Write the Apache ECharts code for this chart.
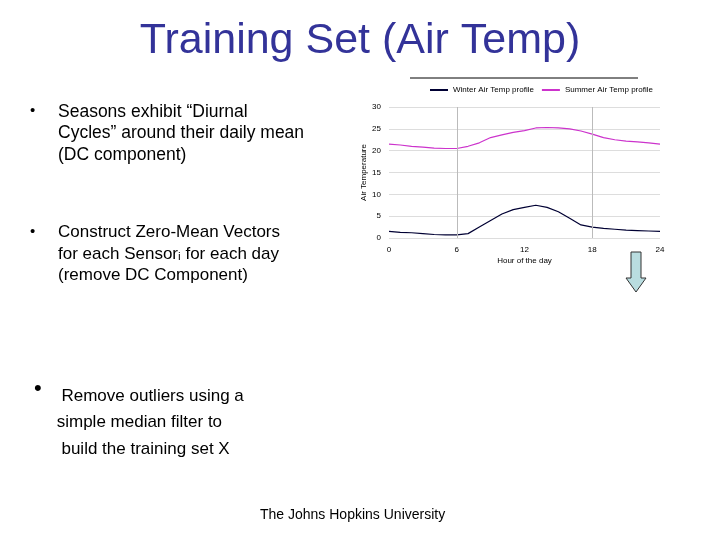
<!DOCTYPE html><html><head><meta charset="utf-8">
<script src="https://cdn.jsdelivr.net/npm/echarts@6/dist/echarts.min.js"></script>
<style>html,body{margin:0;background:#fff}#c{width:720px;height:540px}</style></head><body><div id="c"></div>
<script>
const hours=[0,1,2,3,4,5,6,7,8,9,10,11,12,13,14,15,16,17,18,19,20,21,22,23,24];
const winter=[1.5,1.3,1.2,1.0,0.8,0.7,0.7,1.0,2.5,4.0,5.5,6.5,7.0,7.5,7.0,6.0,4.5,3.0,2.5,2.2,2.0,1.8,1.7,1.6,1.5];
const summer=[21.5,21.3,21.0,20.8,20.6,20.5,20.5,21.0,21.8,23.0,23.6,24.2,24.6,25.2,25.3,25.2,25.0,24.5,23.8,23.0,22.5,22.2,22.0,21.8,21.5];
const xTicks=[0,6,12,18,24];
const vGrid=[6,18];
const F='Liberation Sans';
const ch=echarts.init(document.getElementById('c'));
ch.setOption({
 animation:false,
 grid:{left:389,top:107,width:271,height:131},
 legend:{top:81,left:425,itemWidth:18,itemHeight:2,itemGap:8,icon:'rect',textStyle:{fontFamily:F,fontSize:8,color:'#000'},
   data:['Winter Air Temp profile','Summer Air Temp profile']},
 xAxis:{type:'value',min:0,max:24,interval:6,name:'Hour of the day',nameLocation:'middle',nameGap:19,
   nameTextStyle:{fontFamily:F,fontSize:8,color:'#000'},
   axisLine:{show:false},axisTick:{show:false},
   axisLabel:{fontFamily:F,fontSize:8,color:'#000'},
   splitLine:{show:false}},
 yAxis:{type:'value',min:0,max:30,interval:5,name:'Air Temperature',nameLocation:'middle',nameGap:20,
   nameTextStyle:{fontFamily:F,fontSize:8,color:'#000'},
   axisLine:{show:false},axisTick:{show:false},
   axisLabel:{fontFamily:F,fontSize:8,color:'#000',margin:8},
   splitLine:{lineStyle:{color:'#ddd',width:1}}},
 series:[
  {name:'Winter Air Temp profile',type:'line',data:hours.map((h,i)=>[h,winter[i]]),showSymbol:false,lineStyle:{color:'#000033',width:1.2},itemStyle:{color:'#000033'},
   markLine:{silent:true,symbol:'none',label:{show:false},lineStyle:{color:'#bbb',width:1,type:'solid'},data:vGrid.map(v=>({xAxis:v}))}},
  {name:'Summer Air Temp profile',type:'line',data:hours.map((h,i)=>[h,summer[i]]),showSymbol:false,lineStyle:{color:'#cc33cc',width:1.2},itemStyle:{color:'#cc33cc'}}
 ],
 graphic:[
  {type:'text',left:'center',top:20,style:{text:'Training Set (Air Temp)',font:'43px '+F,fill:'#333399'}},
  {type:'line',shape:{x1:410,y1:78,x2:638,y2:78},style:{stroke:'#000',lineWidth:1}},
  {type:'text',left:30,top:103,style:{text:'•',font:'15px '+F,fill:'#000'}},
  {type:'text',left:58,top:101,style:{text:'Seasons exhibit “Diurnal\nCycles” around their daily mean\n(DC component)',font:'17.5px '+F,fill:'#000',lineHeight:21.5}},
  {type:'text',left:30,top:224,style:{text:'•',font:'15px '+F,fill:'#000'}},
  {type:'text',left:58,top:222,style:{text:'Construct Zero-Mean Vectors\nfor each Sensorᵢ for each day\n(remove DC Component)',font:'17px '+F,fill:'#000',lineHeight:21.5}},
  {type:'text',left:34,top:378,style:{text:'•',font:'22px '+F,fill:'#000'}},
  {type:'text',left:52,top:383,style:{text:'  Remove outliers using a\n simple median filter to\n  build the training set X',font:'17px '+F,fill:'#000',lineHeight:26.5}},
  {type:'text',left:260,top:508,style:{text:'The Johns Hopkins University',font:'14px '+F,fill:'#000'}},
  {type:'polygon',shape:{points:[[631,252],[641,252],[641,278],[646,278],[636,292],[626,278],[631,278]]},style:{fill:'#b9dde0',stroke:'#333',lineWidth:1}}
 ]
});
</script></body></html>
